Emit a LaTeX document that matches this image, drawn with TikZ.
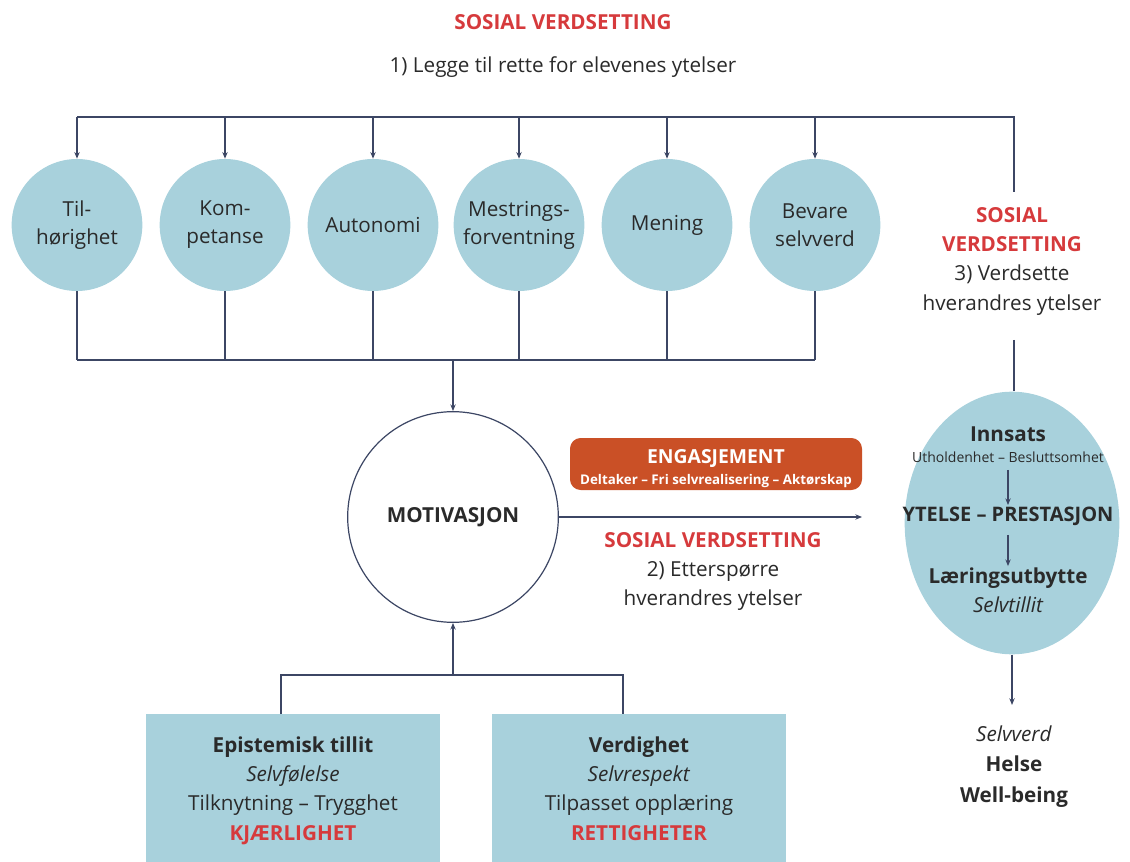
\documentclass[tikz,border=0pt]{standalone}
\usepackage{fontspec}
\setmainfont{Open Sans}
\usetikzlibrary{shapes.geometric,arrows.meta}
\definecolor{lblue}{HTML}{A8D1DC}
\definecolor{navy}{HTML}{3C4664}
\definecolor{sred}{HTML}{D63A3C}
\definecolor{sorange}{HTML}{CA5026}
\definecolor{ink}{HTML}{2A2A2A}
\begin{document}
\begin{tikzpicture}[x=0.75pt,y=-0.75pt,
  conn/.style={draw=navy,line width=0.9pt},
  arr/.style={conn,-{Stealth[length=5pt,width=4pt]}},
  bubble/.style={ellipse,fill=lblue,minimum width=98pt,minimum height=99pt,inner sep=0pt,
    label={[align=center,text=ink,font=\fontsize{15.5}{21}\selectfont,inner sep=0pt]center:#1}},
  txt/.style={align=center,text=ink,font=\fontsize{15.5}{22}\selectfont,inner sep=1pt},
  redtxt/.style={txt,text=sred},
  small/.style={align=center,text=ink,font=\fontsize{10.5}{13}\selectfont,inner sep=1pt},
  boxstyle/.style={fill=lblue,minimum width=220.5pt,minimum height=111pt,inner sep=0pt}
]
\useasboundingbox (0,0) rectangle (1130,862);
% title
\node[redtxt,font=\fontsize{15.5}{21}\selectfont\bfseries] (t1) at (563,22) {SOSIAL VERDSETTING};
\node[txt] (t2) at (563,67) {1) Legge til rette for elevenes ytelser};
% bubbles
\node[bubble={Til-\\hørighet}] (c1) at (77,225) {};
\node[bubble={Kom-\\petanse}] (c2) at (225,225) {};
\node[bubble={Autonomi}] (c3) at (373,225) {};
\node[bubble={Mestrings-\\forventning}] (c4) at (519,225) {};
\node[bubble={Mening}] (c5) at (667,225) {};
\node[bubble={Bevare\\selvverd}] (c6) at (815,225) {};
% top bus
\coordinate (tl) at (77,117);
\coordinate (tr) at (1014,117);
\coordinate (tre) at (1014,192);
\draw[conn] (tre) -- (tr) -- (tl);
\foreach \c in {c1,c2,c3,c4,c5,c6}{
  \draw[arr] (\c.north |- tl) -- (\c.north);
}
% bottom bus
\coordinate (bl) at (77,360);
\coordinate (br) at (815,360);
\foreach \c in {c1,c2,c3,c4,c5,c6}{
  \draw[conn] (\c.south) -- (\c.south |- bl);
}
\draw[conn] (bl) -- (br);
% motivation
\node[circle,draw=navy,line width=0.9pt,fill=white,minimum size=158pt,inner sep=0pt,text=ink,font=\fontsize{15.5}{21}\selectfont\bfseries] (mot) at (453,517) {MOTIVASJON};
\coordinate (bm) at (453,360);
\draw[arr] (bm) -- (mot.north);
% bottom boxes
\node[boxstyle,anchor=north] (bx1) at (293,714) {};
\node[boxstyle,anchor=north] (bx2) at (639,714) {};
\node[txt,anchor=north] (b1t) at (293,735) {\textbf{Epistemisk tillit}\\\textit{Selvfølelse}\\Tilknytning – Trygghet\\\textcolor{sred}{\textbf{KJÆRLIGHET}}};
\node[txt,anchor=north] (b2t) at (639,735) {\textbf{Verdighet}\\\textit{Selvrespekt}\\Tilpasset opplæring\\\textcolor{sred}{\textbf{RETTIGHETER}}};
\coordinate (jl) at (281,675);
\coordinate (jr) at (623,675);
\coordinate (jm) at (453,675);
\draw[conn] (jl |- bx1.north) -- (jl) -- (jr) -- (jr |- bx2.north);
\draw[arr] (jm) -- (mot.south);
% engagement
\node[rounded corners=8pt,fill=sorange,minimum width=219pt,minimum height=39pt,inner sep=0pt] (eng) at (716,464) {};
\node[align=center,text=white,font=\fontsize{14.5}{18}\selectfont\bfseries,inner sep=0pt] (engt) at (716,459) {ENGASJEMENT};
\node[align=center,text=white,font=\fontsize{10}{12}\selectfont\bfseries,inner sep=0pt] (engs) at (716,481) {Deltaker – Fri selvrealisering – Aktørskap};
% performance ellipse
\node[ellipse,fill=lblue,minimum width=161pt,minimum height=197pt,inner sep=0pt] (perf) at (1012,523) {};
\coordinate (ae) at (862,517);
\draw[arr] (mot.east) -- (ae);
\node[redtxt,font=\fontsize{15.5}{21}\selectfont\bfseries] (s2a) at (713,540) {SOSIAL VERDSETTING};
\node[txt] (s2b) at (713,586) {2) Etterspørre\\hverandres ytelser};
\node[txt,font=\fontsize{15.5}{21}\selectfont\bfseries] (p1) at (1008,434) {Innsats};
\node[small] (p2) at (1008,457) {Utholdenhet – Besluttsomhet};
\node[txt,font=\fontsize{15}{21}\selectfont\bfseries] (p3) at (1008,516) {YTELSE – PRESTASJON};
\node[txt,font=\fontsize{15.5}{21}\selectfont\bfseries] (p4) at (1008,578) {Læringsutbytte};
\node[txt,font=\fontsize{15.5}{21}\selectfont\itshape] (p5) at (1008,605) {Selvtillit};
\draw[arr] (p2.south) ++(0,6) coordinate (a1s) -- (p3.north);
\draw[arr] (p3.south) ++(0,8) coordinate (a2s) -- (p4.north);
% right social text
\node[txt] (s3) at (1012,261) {\textcolor{sred}{\textbf{SOSIAL}}\\\textcolor{sred}{\textbf{VERDSETTING}}\\3) Verdsette\\hverandres ytelser};
\coordinate (rv) at (1014,340);
\draw[conn] (rv) -- (rv |- perf.north);
% outcome
\coordinate (oa) at (1012,705);
\draw[arr] (perf.south) -- (oa);
\node[txt,anchor=north,font=\fontsize{15.5}{23}\selectfont] (out) at (1014,724) {\textit{Selvverd}\\\textbf{Helse}\\\textbf{Well-being}};
\end{tikzpicture}
\end{document}
